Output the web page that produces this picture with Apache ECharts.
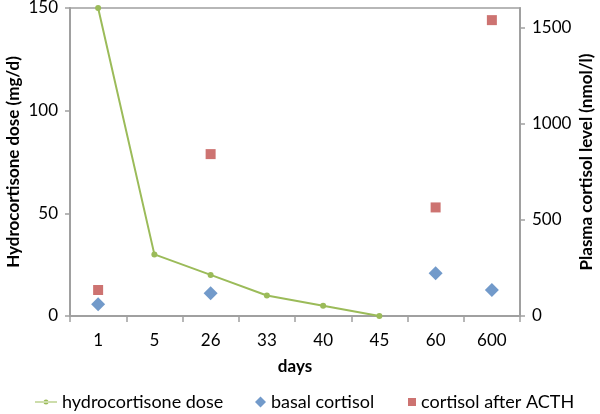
<!DOCTYPE html>
<html><head><meta charset="utf-8">
<script src="https://cdn.jsdelivr.net/npm/echarts@6/dist/echarts.min.js"></script>
<style>html,body{margin:0;padding:0;background:#fff}#c{width:600px;height:414px}</style>
</head><body><div id="c"></div>
<script>
const days = ['1','5','26','33','40','45','60','600'];
const hydrocortisoneDose = [150, 30, 20, 10, 5, 0, null, null];
const basalCortisol = [61, null, 118, null, null, null, 222, 135];
const cortisolAfterACTH = [135, null, 841, null, null, null, 564, 1537];
const leftTicks = [0, 50, 100, 150];
const rightTicks = [0, 500, 1000, 1500];

const FONT = 'Lato, "Liberation Sans", sans-serif';
const axisGray = '#a0a0a0';
const legText = {fontSize: 18, color: '#000', fontFamily: FONT};
const chart = echarts.init(document.getElementById('c'));
chart.setOption({
  animation: false,
  textStyle: {fontFamily: FONT},
  grid: {left: 70, right: 80, top: 8, bottom: 98, outerBoundsMode: 'none', containLabel: false,
         show: true, borderColor: axisGray, borderWidth: 1.5},
  legend: [
    {left: 30, top: 388, itemWidth: 22, itemHeight: 10, itemGap: 0, textStyle: legText,
     data: [{name: 'hydrocortisone dose', icon: 'path://M0,4.4 L22,4.4 L22,5.6 L0,5.6 Z M8.5,5 a2.5,2.5 0 1,0 5,0 a2.5,2.5 0 1,0 -5,0'}]},
    {left: 250, top: 388, itemWidth: 11, itemHeight: 11, itemGap: 0, textStyle: legText,
     data: [{name: 'basal cortisol', icon: 'diamond'}]},
    {left: 403, top: 388, itemWidth: 8, itemHeight: 8, itemGap: 0, textStyle: legText,
     data: [{name: 'cortisol after ACTH', icon: 'rect'}]}
  ],
  xAxis: {
    type: 'category', data: days, boundaryGap: true,
    name: 'days', nameLocation: 'middle', nameGap: 42, nameMoveOverlap: false,
    nameTextStyle: {fontSize: 17, fontWeight: 'bold', color: '#000'},
    axisLine: {lineStyle: {color: axisGray, width: 2}},
    axisTick: {show: true, inside: false, length: 6, lineStyle: {color: axisGray, width: 1.5}},
    axisLabel: {fontSize: 17, color: '#000', margin: 16}
  },
  yAxis: [
    {
      type: 'value', min: 0, max: 150, interval: 50, position: 'left',
      name: 'Hydrocortisone dose (mg/d)', nameLocation: 'middle', nameGap: 48, nameRotate: 90, nameMoveOverlap: false,
      nameTextStyle: {fontSize: 17, fontWeight: 'bold', color: '#000'},
      axisLine: {show: true, lineStyle: {color: axisGray, width: 2}},
      axisTick: {show: true, length: 5, lineStyle: {color: axisGray, width: 1.5}},
      axisLabel: {fontSize: 17, color: '#000', margin: 12},
      splitLine: {show: false}
    },
    {
      type: 'value', min: 0, max: 1600, position: 'right',
      name: 'Plasma cortisol level (nmol/l)', nameLocation: 'middle', nameGap: 58, nameRotate: 90, nameMoveOverlap: false,
      nameTextStyle: {fontSize: 17, fontWeight: 'bold', color: '#000'},
      axisLine: {show: true, lineStyle: {color: axisGray, width: 2}},
      axisTick: {show: true, length: 5, customValues: rightTicks, lineStyle: {color: axisGray, width: 1.5}},
      axisLabel: {fontSize: 17, color: '#000', margin: 12, customValues: rightTicks, formatter: v => String(v)},
      splitLine: {show: false}
    }
  ],
  series: [
    {
      name: 'hydrocortisone dose', type: 'line', yAxisIndex: 0, data: hydrocortisoneDose,
      symbol: 'circle', symbolSize: 6, connectNulls: false,
      lineStyle: {color: '#9bbb59', width: 2}, itemStyle: {color: '#9bbb59'}
    },
    {
      name: 'basal cortisol', type: 'scatter', yAxisIndex: 1, data: basalCortisol,
      symbol: 'diamond', symbolSize: [14, 14], itemStyle: {color: '#4f81bd'}
    },
    {
      name: 'cortisol after ACTH', type: 'scatter', yAxisIndex: 1, data: cortisolAfterACTH,
      symbol: 'rect', symbolSize: 10, itemStyle: {color: '#c0504d'}
    }
  ]
});
</script></body></html>
